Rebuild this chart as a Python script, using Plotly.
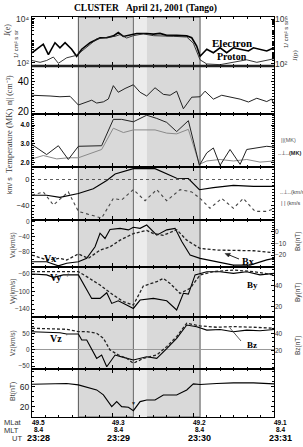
import plotly.graph_objects as go

# ---------------- data (time in seconds after 23:28:00 UT) ----------------
t_e = [0, 4.7, 8.4, 12.2, 17.1, 20.8, 24.6, 29.5, 33.2, 37, 43.2, 50.6, 55.6, 60.5, 64.2, 68, 72.9, 77.9, 85.3, 90.3,
       95.2, 100.2, 107.6, 115.1, 118.8, 122.5, 125, 130, 134.9, 139.9, 144.8, 149.8, 154.8, 161, 164.7, 169.6, 174.6, 180]
flux_e = [290, 490, 710, 240, 830, 490, 830, 420, 200, 420, 830, 1400, 1400, 1700, 2400, 1600, 1800, 2200, 2200, 2050,
          2200, 1800, 1800, 1700, 1400, 590, 200, 420, 290, 490, 290, 490, 420, 350, 490, 420, 350, 490]

t_p = [0, 6, 10.9, 15.9, 19.6, 25.8, 33.2, 40.7, 48.1, 55.6, 61.8, 65.5, 70.4, 75.4, 82.8, 90.3, 97.7, 105.2, 115.1,
       120, 125, 130, 139.9, 149.8, 159.7, 167.2, 174.6, 180]
flux_p = [205, 140, 205, 415, 115, 355, 590, 3500, 16600, 23400, 29000, 41500, 20400, 33000, 47500, 33000, 33000, 29000,
          25000, 7100, 235, 100, 87, 140, 235, 140, 205, 290]

t_n = [0, 6, 13.4, 20.8, 28.3, 34.5, 38.2, 44.4, 48.1, 53.1, 56.8, 60.5, 64.2, 69.2, 75.4, 80.4, 85.3, 91.5, 97.7, 102.7,
       107.6, 112.6, 118.8, 125, 128.7, 134.9, 141.1, 147.3, 154.8, 161, 167.2, 174.6, 178.3, 180]
dens = [31, 31, 30.5, 30, 30.3, 24.5, 25.8, 27.7, 25.8, 26.6, 28.5, 37.4, 33, 35.5, 38, 33, 30.5, 36, 31.6, 31,
        33.7, 22, 29.7, 30, 33.7, 28.4, 31, 30, 28.4, 26.5, 29, 26.8, 28.5, 25]

t_tb = [0, 10.9, 19.6, 27, 34.5, 51.8, 60.5, 66.7, 75.4, 85.3, 92.8, 100.2, 107.6, 116.3, 124.5, 130, 134.9, 139.9,
        147.3, 154.8, 159.7, 167.2, 174.6, 180]
temp_b = [2.96, 2.43, 2.9, 2.17, 2.87, 2.9, 4.3, 4.3, 4.17, 4.52, 4.35, 4.14, 3.65, 4.23, 1.86, 2.52, 2.78, 1.86,
          2.7, 1.91, 2.7, 2.78, 2.87, 2.83]
t_tg = [0, 8.4, 18.4, 27, 34.5, 51.8, 60.5, 68, 75.4, 91.5, 100.2, 107.6, 116.3, 124.5, 130, 139.9, 149.8, 159.7,
        169.6, 180]
temp_g = [2.2, 2.38, 2.2, 2.26, 2.26, 2.7, 3.83, 3.6, 3.74, 3.74, 3.57, 3.53, 3.77, 1.91, 2.09, 2.17, 2.09, 2.17,
          2.03, 2.09]

t_vperp = [0, 10.9, 20.8, 34.5, 45.6, 55.6, 61.8, 68, 75.4, 91.5, 100.2, 107.6, 116.3, 124.5, 134.9, 149.8, 164.7, 180]
v_perp = [-24.6, -24.6, -28, -22, -14.4, -1.5, 8.7, 12, 17, 17, 8.7, 2, 1.5, -16, -12.8, -9.2, -10.8, -10.8]
t_vpar = [0, 8.4, 15.9, 27, 34.5, 51.8, 60.5, 66.7, 75.4, 84.1, 92.8, 100.2, 110.1, 118.8, 125, 132.4, 141.1, 149.8,
          157.2, 165.9, 174.6, 180]
v_par = [-24.6, -19.5, -40, -19.5, -50, -60.5, -29.7, -32, -15.9, -33.3, -15.9, -33.3, -15.9, -19.5, -29.7, -45,
         -29.7, -45, -29.7, -50, -50, -46]

t_vx = [0, 10.9, 19.6, 25.8, 34.5, 40.7, 46.9, 50.6, 54.3, 58, 65.5, 71.7, 75.4, 80.4, 85.3, 92.8, 100.2, 106.4, 111.4,
        117.6, 125, 137.4, 149.8, 162.2, 169.6, 174.6, 180]
vx = [-106, -106, -117, -110, -106, -97, -66, -30, -44, -20, -17, -21, -14, -17, -8, -35, -21, -17, -52,
      -88, -97, -106, -115, -115, -106, -101, -97]
t_bx = [0, 10.9, 20.8, 25.8, 34.5, 41.9, 50.6, 58, 65.5, 75.4, 85.3, 90.3, 97.7, 107.6, 115.1, 125, 137.4, 149.8,
        164.7, 180]
bx = [-20, -24.3, -22.9, -24.3, -19.1, -22.9, -15.7, -12.9, -7.1, -1.4, 1.4, -1.4, -2.9, 2, -7.1, -14.3, -15.7, -15.7,
      -16.3, -18]

t_vy = [0, 10.9, 15.9, 23.3, 34.5, 38.2, 44.4, 50.6, 55.6, 59.3, 64.2, 70.4, 75.4, 80.4, 90.3, 100.2, 107.6, 112.6,
        116.3, 121.3, 130, 139.9, 149.8, 159.7, 169.6, 180]
vy = [-60, -62, -67.6, -62, -62, -81, -115.6, -115.6, -102.7, -127, -121, -130.9, -138.5, -119.4, -115.6, -121, -142,
      -104, -105.7, -62, -54.7, -54.7, -58.5, -54.7, -62, -58.5]
t_by = [0, 25.8, 34.5, 40.7, 50.6, 60.5, 68, 75.4, 82.8, 92.8, 97.7, 102.7, 110.1, 117.6, 125, 134.9, 149.8, 164.7, 180]
by = [53.4, 53.4, 53.4, 48.6, 40.6, 31.1, 24.8, 21.6, 39.7, 43.8, 47, 42.2, 32.7, 37.5, 50.2, 53.4, 54.9, 53.4, 50.2]

t_vz = [0, 13.4, 20.8, 25.8, 34.5, 37, 40.7, 48.1, 51.8, 55.6, 61.8, 68, 75.4, 85.3, 92.8, 100.2, 107.6, 115.1, 122.5,
        130, 139.9, 149.8, 159.7, 169.6, 180]
vz = [55, 52, 52, 48, 48, 29.6, 29.6, -26.5, -16.3, -52, -16.3, -23.4, -31.6, -21.4, -26.5, 3, 34.7, 75.5, 70,
      60, 62, 55, 60, 58, 62]
t_bz = [0, 25.8, 34.5, 40.7, 48.1, 53.1, 58, 64.2, 70.4, 75.4, 82.8, 92.8, 100.2, 107.6, 115.1, 125, 137.4, 149.8,
        164.7, 180]
bz = [45.8, 44.6, 41.9, 41.9, 40, 34.2, 20.8, 15, 11.1, 5.4, 11.1, 15, 24.6, 36.2, 51.6, 48.5, 47, 47.7, 47, 45.8]

t_bt = [0, 13.4, 25.8, 34.5, 40.7, 48.1, 53.1, 59.3, 63, 66.7, 71.7, 75.4, 80.4, 85.3, 91.5, 97.7, 107.6, 115.1, 120,
        125, 137.4, 149.8, 164.7, 180]
bt = [64.7, 65.3, 66, 63.3, 58.7, 53.3, 43.3, 20, 30, 20, 18.7, 12, 30, 33.3, 33.3, 43.3, 43.3, 53.3, 65.3,
      64, 66, 67.3, 67.3, 65.3]

# interval markers (s after 23:28)
shade_start, shade_end = 34.5, 125
light_start, light_end = 75.4, 85.5
tick_times = [0, 60, 120, 180]
mlat_labels = ["49.5", "49.3", "49.2", "49.1"]
mlt_labels = ["8.4", "8.4", "8.4", "8.4"]
ut_labels = ["23:28", "23:29", "23:30", "23:31"]

# ---------------- layout ----------------
W, H = 303, 447
L, R, T, B = 32, 29, 17, 30
pw, ph = W - L - R, H - T - B
bounds = [17, 66, 114, 167, 220, 267, 317, 369, 417]


def dom(i):
    return [(H - B - bounds[i + 1]) / ph, (H - B - bounds[i]) / ph]


def pxx(x):
    return (x - L) / pw


def pyy(y):
    return (H - B - y) / ph


SANS = "Liberation Sans"
SERIF = "Liberation Serif"

fig = go.Figure()

lay = dict(width=W, height=H, margin=dict(l=L, r=R, t=T, b=B),
           paper_bgcolor="white", plot_bgcolor="rgba(0,0,0,0)", showlegend=False)

for i in range(8):
    n = "" if i == 0 else str(i + 1)
    xa = dict(domain=[0, 1], range=[0, 180], anchor="y" + n, showticklabels=False,
              ticks="inside", ticklen=4, tickcolor="black", tick0=0, dtick=60,
              minor=dict(ticks="inside", ticklen=2, dtick=10, tickcolor="black"),
              showline=True, linecolor="black", linewidth=1.3, mirror="ticks",
              showgrid=False, zeroline=False)
    if i > 0:
        xa["matches"] = "x"
    lay["xaxis" + n] = xa

ycommon = dict(ticks="inside", ticklen=3, tickcolor="black", showline=True, linecolor="black",
               linewidth=1.3, showgrid=False, zeroline=False, tickfont=dict(family=SANS, size=7, color="black"))

log_minor = [k * 10 ** e for e in range(2, 6) for k in range(1, 10) if not (k == 1 and e == 2)]

ycfg = [
    dict(type="log", range=[1.86, 4.09], tickvals=[100, 10000], ticktext=["10²", "10⁴"],
         minor=dict(ticks="inside", ticklen=2, tickvals=log_minor[:17], tickcolor="black"), mirror=True,
         tickfont=dict(family=SANS, size=8.5, color="#333")),
    dict(range=[18.5, 50.5], tickvals=[20, 40], minor=dict(ticks="inside", ticklen=2, dtick=2, tickcolor="black"),
         mirror="ticks", tickfont=dict(family=SANS, size=10, color="black")),
    dict(range=[1.77, 4.585], tickvals=[2, 3, 4], ticktext=["<b>2.0</b>", "<b>3.0</b>", "<b>4.0</b>"],
         minor=dict(ticks="inside", ticklen=2, dtick=0.1, tickcolor="black"), mirror="ticks",
         tickfont=dict(family=SANS, size=6.5, color="black")),
    dict(range=[-63.5, 19.6], tickvals=[-40, 0], minor=dict(ticks="inside", ticklen=2, dtick=5, tickcolor="black"),
         mirror="ticks", tickfont=dict(family=SANS, size=7.5, color="#222")),
    dict(range=[-120, 5.3], tickvals=[-80, -40, 0], minor=dict(ticks="inside", ticklen=2, dtick=10, tickcolor="black"),
         mirror=True, tickfont=dict(family=SANS, size=6.5, color="#333")),
    dict(range=[-158, -44], tickvals=[-140, -100, -60], minor=dict(ticks="inside", ticklen=2, dtick=10, tickcolor="black"),
         mirror=True, tickfont=dict(family=SANS, size=6.5, color="#333")),
    dict(range=[-59, 100], tickvals=[-50, 0, 50], minor=dict(ticks="inside", ticklen=2, dtick=10, tickcolor="black"),
         mirror=True, zeroline=True, zerolinecolor="#999", zerolinewidth=1,
         tickfont=dict(family=SANS, size=6.5, color="#333")),
    dict(range=[-0.7, 95], tickvals=[20, 60], minor=dict(ticks="inside", ticklen=2, dtick=10, tickcolor="black"),
         mirror="ticks", tickfont=dict(family=SANS, size=8.5, color="#222")),
]
for i, c in enumerate(ycfg):
    n = "" if i == 0 else str(i + 1)
    ya = dict(ycommon)
    ya.update(c)
    ya["domain"] = dom(i)
    ya["anchor"] = "x" + n
    lay["yaxis" + n] = ya

# right-hand axes
rcommon = dict(side="right", ticks="inside", ticklen=3, tickcolor="black", showline=False, showgrid=False,
               zeroline=False, tickfont=dict(family=SANS, size=6.5, color="#333"))
lay["yaxis9"] = dict(rcommon, overlaying="y", anchor="x", type="log", range=[1.82, 6.18],
                     tickvals=[100, 1e6], ticktext=["10²", "10⁶"],
                     minor=dict(ticks="inside", ticklen=2, tickvals=log_minor, tickcolor="black"),
                     tickfont=dict(family=SANS, size=8.5, color="#333"))
lay["yaxis10"] = dict(rcommon, overlaying="y5", anchor="x5", range=[-30.4, 10.4], tickvals=[-20, -10, 0],
                      minor=dict(ticks="inside", ticklen=2, dtick=2, tickcolor="black"))
lay["yaxis11"] = dict(rcommon, overlaying="y6", anchor="x6", range=[10.2, 57.8], tickvals=[20, 40],
                      minor=dict(ticks="inside", ticklen=2, dtick=5, tickcolor="black"))
lay["yaxis12"] = dict(rcommon, overlaying="y7", anchor="x7", range=[-1.2, 58.8], tickvals=[20, 40],
                      minor=dict(ticks="inside", ticklen=2, dtick=5, tickcolor="black"))

fig.update_layout(**lay)


def line(x, y, xa, ya, color="black", width=1.0, dash="solid"):
    fig.add_trace(go.Scatter(x=x, y=y, xaxis=xa, yaxis=ya, mode="lines",
                             line=dict(color=color, width=width, dash=dash), hoverinfo="skip"))


line(t_e, flux_e, "x", "y", width=1.6)
line(t_p, flux_p, "x", "y9", width=0.9, color="#222")
line(t_n, dens, "x2", "y2", width=1.0, color="#222")
line(t_tg, temp_g, "x3", "y3", width=1.0, color="#8a8a8a")
line(t_tb, temp_b, "x3", "y3", width=1.0, color="#222")
line(t_vperp, v_perp, "x4", "y4", width=1.1)
line(t_vpar, v_par, "x4", "y4", width=1.1, color="#444", dash="dot")
line(t_vx, vx, "x5", "y5", width=1.1)
line(t_bx, bx, "x5", "y10", width=1.3, color="#222", dash="3px,2px")
line(t_vy, vy, "x6", "y6", width=1.1)
line(t_by, by, "x6", "y11", width=1.3, color="#222", dash="3px,2px")
line(t_vz, vz, "x7", "y7", width=1.1)
line(t_bz, bz, "x7", "y12", width=1.3, color="#222", dash="3px,2px")
line(t_bt, bt, "x8", "y8", width=1.1)


def seg(x0, y0, x1, y1, color="#222", width=1):
    return dict(type="line", xref="paper", yref="paper", x0=pxx(x0), y0=pyy(y0), x1=pxx(x1), y1=pyy(y1),
                line=dict(color=color, width=width))


shapes = [
    dict(type="rect", xref="x", yref="paper", x0=shade_start, x1=shade_end, y0=0, y1=1,
         fillcolor="#d9d9d9", line=dict(color="#555", width=1), layer="below"),
    dict(type="rect", xref="x", yref="paper", x0=light_start, x1=light_end, y0=0, y1=1,
         fillcolor="#ececec", line=dict(width=0), layer="below"),
    dict(type="line", xref="x", yref="paper", x0=light_start, x1=light_start, y0=0, y1=1,
         line=dict(color="#666", width=1), layer="below"),
    dict(type="line", xref="x4", yref="y4", x0=0, x1=180, y0=0, y1=0,
         line=dict(color="#333", width=0.8, dash="dot")),
    dict(type="line", xref="paper", yref="paper", x0=0, x1=1, y0=dom(0)[0], y1=dom(0)[0],
         line=dict(color="#222", width=2.5)),
    # pointer from Bx label, pointer from Bz label
    seg(228, 254.5, 239, 259),
    dict(type="path", xref="paper", yref="paper",
         path="M {} {} L {} {} L {} {} Z".format(pxx(225), pyy(253.5), pxx(230.5), pyy(253.3), pxx(228.5), pyy(257)),
         fillcolor="#222", line=dict(color="#222", width=0.5)),
    seg(230, 328, 241, 341, color="#333", width=0.8),
]
fig.update_layout(shapes=shapes)

ann = []


def A(x, y, text, size=7, family=SANS, color="black", angle=0, xanchor="center", **kw):
    ann.append(dict(x=pxx(x), y=pyy(y), xref="paper", yref="paper", text=text, showarrow=False,
                    font=dict(family=family, size=size, color=color), textangle=angle,
                    xanchor=xanchor, yanchor="middle", **kw))


A(145, 9, "<b>CLUSTER&nbsp;&nbsp;&nbsp;April 21, 2001 (Tango)</b>", size=9.5, family=SERIF)
A(232, 43, "<b>Electron</b>", size=11, family=SERIF)
A(232, 57, "<b>Proton</b>", size=10, family=SERIF)

# left axis titles
A(8, 30, "J(e)", size=8, family=SERIF, angle=-90, color="#333")
A(16, 44, "1/ cm² s sr", size=6, angle=-90, color="#333")
A(9, 90, "n|| (cm⁻³)", size=8, family=SERIF, angle=-90, color="#333")
A(9, 141, "Temperature (MK)", size=8.5, family=SERIF, angle=-90, color="#333")
A(9, 186, "km/ s", size=7, angle=-90, color="#333")
A(13, 245, "Vx(km/s)", size=6.5, angle=-90, color="#444")
A(13, 292, "Vy(km/s)", size=6.5, angle=-90, color="#444")
A(13, 343, "Vz(km/s)", size=6.5, angle=-90, color="#444")
A(13, 392, "Bt(nT)", size=7, angle=-90, color="#444")

# right axis titles
A(286, 34, "1/ cm² s sr", size=6, angle=-90, color="#333")
A(295, 55, "J(p)", size=7, family=SERIF, angle=-90, color="#333")
A(298, 241, "Bx(nT)", size=6.5, angle=-90, color="#444")
A(298, 292, "By(nT)", size=6.5, angle=-90, color="#444")
A(298, 345, "Bz(nT)", size=6.5, angle=-90, color="#444")

# panel legends
A(279, 140, "||(MK)", size=5.5, color="#555", xanchor="left")
A(276, 153, "‥⊥‥<b>(MK)</b>", size=5.5, color="#222", xanchor="left")
A(278, 192, "‥⊥‥(km/s", size=5.5, color="#444", xanchor="left")
A(279, 203, "| | (km/s", size=5.5, color="#444", xanchor="left")

# component labels
A(50, 258, "<b>Vx</b>", size=10, family=SERIF)
A(248, 261, "<b>Bx</b>", size=10, family=SERIF)
A(55, 277, "<b>Vy</b>", size=10, family=SERIF)
A(68, 275, "/", size=6, color="#444")
A(252, 285, "<b>By</b>", size=9, family=SERIF)
A(56, 338, "<b>Vz</b>", size=10, family=SERIF)
A(66, 336, "'", size=7, color="#444")
A(252, 345, "<b>Bz</b>", size=9, family=SERIF)
A(133, 403, "▼", size=5, color="#222")

# bottom labels
A(2, 422, "MLat", size=7.5, color="#333", xanchor="left")
A(2, 430, "MLT", size=7.5, color="#333", xanchor="left")
A(10, 438, "UT", size=7.5, color="#333", xanchor="left")
for tt, a, b, c in zip(tick_times, mlat_labels, mlt_labels, ut_labels):
    xp = L + tt / 180 * pw
    A(xp + 6, 422, "<b>" + a + "</b>", size=6.5)
    A(xp + 6, 429.5, "<b>" + b + "</b>", size=6.5)
    A(xp + 6, 438, "<b>" + c + "</b>", size=9)

fig.update_layout(annotations=ann)
fig.write_html("out.html")
